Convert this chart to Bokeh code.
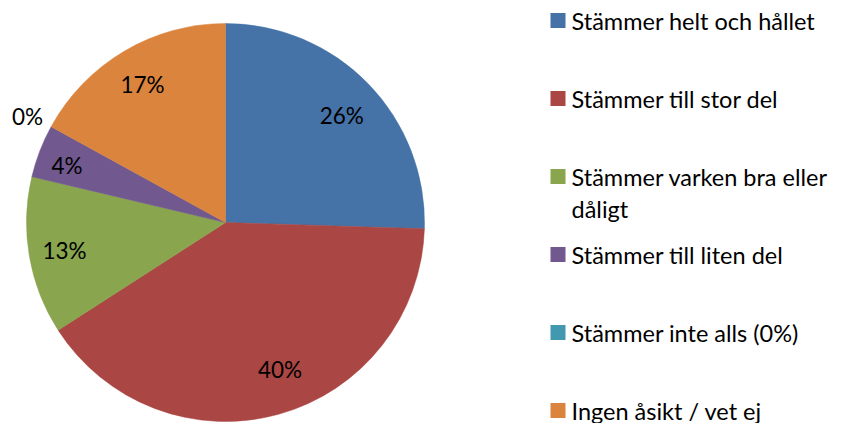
import numpy as np
from bokeh.plotting import figure
from bokeh.models import Range1d, ColumnDataSource
from bokeh.core.properties import value
from bokeh.embed import file_html
from bokeh.resources import INLINE

# ---- data ----
categories = [
    "Stämmer helt och hållet",
    "Stämmer till stor del",
    "Stämmer varken bra eller\ndåligt",
    "Stämmer till liten del",
    "Stämmer inte alls (0%)",
    "Ingen åsikt / vet ej",
]
share = [25.5, 40.4, 12.8, 4.3, 0.0, 17.0]      # slice sizes
percent_labels = [26, 40, 13, 4, 0, 17]          # labels as printed
colors = ["#4572A7", "#AA4643", "#89A54E", "#71588F", "#4198AF", "#DB843D"]

# ---- layout (pixel units, y measured from the top via REF_H - y) ----
W, H = 835, 423
REF_H = 439
FONT = "Lato"
cx, cy, R = 225, REF_H - 222, 199
label_dx = [2, 12, -4, -10, -1, -2]
label_dy = [-4, 6, -1, 0, -2, 1]

p = figure(width=W, height=H, output_backend="svg", toolbar_location=None,
           x_range=Range1d(0, W), y_range=Range1d(REF_H - H, REF_H),
           min_border=0, outline_line_color=None)
p.axis.visible = False
p.grid.visible = False
p.background_fill_color = "white"

vals = np.array(share, dtype=float)
total = vals.sum()
cum = np.cumsum(vals)
before = cum - vals
start = np.pi / 2 - 2 * np.pi * before / total
end = np.pi / 2 - 2 * np.pi * cum / total
mid = (start + end) / 2

nz = vals > 0
wsrc = ColumnDataSource(dict(start=start[nz], end=end[nz],
                             color=[c for c, k in zip(colors, nz) if k]))
p.wedge(x=cx, y=cy, radius=R, start_angle="start", end_angle="end",
        direction="clock", fill_color="color", line_color="color",
        line_width=0.5, source=wsrc)

# percent labels
lr = np.where(nz, 0.80 * R, 1.13 * R)
lsrc = ColumnDataSource(dict(x=cx + lr * np.cos(mid) + np.array(label_dx),
                             y=cy + lr * np.sin(mid) + np.array(label_dy),
                             t=[f"{v}%" for v in percent_labels]))
p.text(x="x", y="y", text="t", source=lsrc, text_font=value(FONT),
       text_font_size="22.5px", text_align="center", text_baseline="middle",
       text_color="black")

# legend
row0, step = REF_H - 20, 78.0
sq_x, tx = 557.5, 571
line_h = 32
sx, sy, tx_list, ty_list, tt = [], [], [], [], []
for i, lab in enumerate(categories):
    yy = row0 - i * step
    sx.append(sq_x)
    sy.append(yy)
    for j, line in enumerate(lab.split("\n")):
        tx_list.append(tx)
        ty_list.append(yy - j * line_h)
        tt.append(line)
p.rect(x=sx, y=sy, width=15, height=15, fill_color=colors, line_color=None)
p.text(x=tx_list, y=ty_list, text=tt, text_font=value(FONT),
       text_font_size="23.5px", text_align="left", text_baseline="middle",
       text_color="black")

open("out.html", "w").write(file_html(p, INLINE))
